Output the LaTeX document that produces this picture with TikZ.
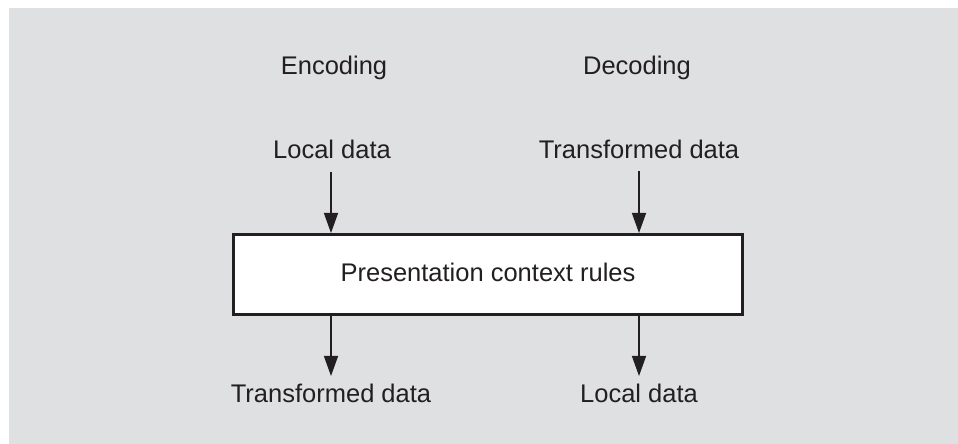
\documentclass[tikz,border=0pt]{standalone}
\usepackage{fontspec}
\setmainfont{Liberation Sans}
\usetikzlibrary{arrows.meta}
\definecolor{bg}{HTML}{DFE0E2}
\definecolor{ink}{HTML}{231F20}
\begin{document}
\begin{tikzpicture}[x=1pt,y=1pt,
  lbl/.style={anchor=base,text=ink,font=\fontsize{25.5}{30}\selectfont,inner sep=0pt},
  arr/.style={draw=ink,line width=1.5pt,-{Triangle[length=20pt,width=14pt]}}]
\useasboundingbox (0,0) rectangle (958,444);
\fill[bg] (9,0) rectangle (958,436);
\node[draw=ink,fill=white,line width=3pt,minimum width=509pt,minimum height=80pt,inner sep=0pt] (box) at (488,169.5) {};
\node[lbl] (rules) at (488,162) {Presentation context rules};
\node[lbl] (enc) at (334,369) {Encoding};
\node[lbl] (dec) at (637,369) {Decoding};
\node[lbl] (ld1) at (332,285) {Local data};
\node[lbl] (td1) at (639,285) {Transformed data};
\node[lbl] (td2) at (331,41) {Transformed data};
\node[lbl] (ld2) at (639,41) {Local data};
\coordinate (s1) at (331,272);
\coordinate (s2) at (639,273);
\coordinate (e1) at (331,68);
\coordinate (e2) at (639,68);
\draw[arr] (s1) -- (s1 |- box.north);
\draw[arr] (s2) -- (s2 |- box.north);
\draw[arr] (e1 |- box.south) -- (e1);
\draw[arr] (e2 |- box.south) -- (e2);
\end{tikzpicture}
\end{document}
